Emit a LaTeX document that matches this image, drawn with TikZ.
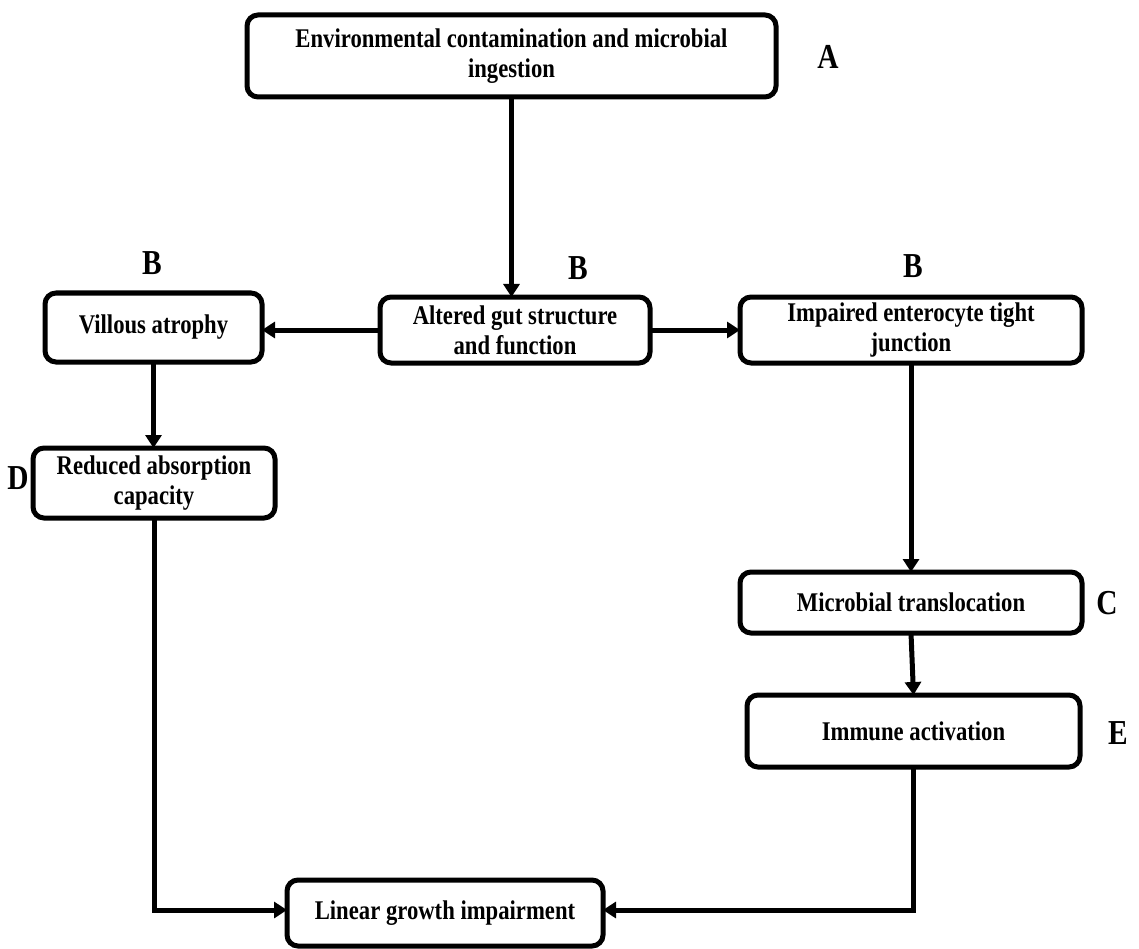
\documentclass[tikz,border=0pt]{standalone}
\usepackage{fontspec}
\setmainfont{Liberation Serif}[FakeStretch=0.84]
\usetikzlibrary{arrows.meta}
\begin{document}
\begin{tikzpicture}[x=1pt,y=-1pt,
  box/.style={draw, line width=5pt, rounded corners=11pt, inner sep=0pt, outer sep=0pt,
    align=center, font=\fontsize{27}{30}\selectfont\bfseries},
  lab/.style={inner sep=0pt, font=\fontsize{35}{40}\selectfont\bfseries},
  arr/.style={line width=5pt, -{Triangle[length=13pt,width=16pt]}}]
\useasboundingbox (0,0) rectangle (1139,949);
% boxes
\node[box, minimum width=529pt, minimum height=82pt] (envc) at (511.5,56) {Environmental contamination and microbial\\ingestion};
\node[box, minimum width=270pt, minimum height=66pt] (alt) at (515,330) {Altered gut structure\\and function};
\node[box, minimum width=217pt, minimum height=69pt] (vil) at (153.5,327.5) {Villous atrophy};
\node[box, minimum width=342pt, minimum height=66pt] (imp) at (911,330) {Impaired enterocyte tight\\junction};
\node[box, minimum width=242pt, minimum height=70pt] (red) at (154,483) {Reduced absorption\\capacity};
\node[box, minimum width=342pt, minimum height=61pt] (mic) at (911,602.5) {Microbial translocation};
\node[box, minimum width=333pt, minimum height=72pt] (imm) at (913.5,731) {Immune activation};
\node[box, minimum width=316pt, minimum height=66pt] (lin) at (445,913) {Linear growth impairment};
% labels
\node[lab] (la) at (828,57) {A};
\node[lab] (lb1) at (152,263) {B};
\node[lab] (lb2) at (578,268) {B};
\node[lab] (lb3) at (913,266) {B};
\node[lab] (ld) at (18,478) {D};
\node[lab] (lc) at (1107,603) {C};
\node[lab] (le) at (1118,733) {E};
% connectors
\draw[arr] (envc.south) -- (envc.south |- alt.north);
\draw[arr] (alt.west) -- (alt.west -| vil.east);
\draw[arr] (alt.east) -- (alt.east -| imp.west);
\draw[arr] (vil.south) -- (vil.south |- red.north);
\draw[arr] (imp.south) -- (imp.south |- mic.north);
\draw[arr] (mic.south) -- (imm.north);
\draw[arr] (red.south) |- ([yshift=3pt]lin.west);
\draw[arr] (imm.south) |- ([yshift=3pt]lin.east);
\end{tikzpicture}
\end{document}
